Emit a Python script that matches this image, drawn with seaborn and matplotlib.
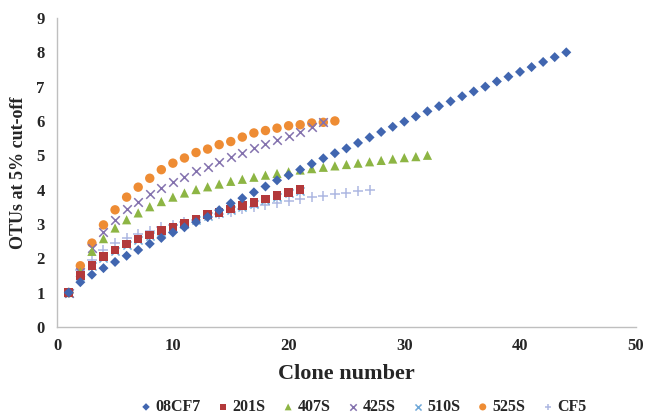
import pandas as pd
import matplotlib.pyplot as plt
import seaborn as sns

# OTU counts (5% cut-off)
otu_08cf7 = [1, 1.3, 1.52, 1.71, 1.89, 2.07, 2.24, 2.42, 2.59, 2.75, 2.9, 3.05,
             3.2, 3.4, 3.6, 3.75, 3.92, 4.09, 4.27, 4.42, 4.58, 4.75, 4.91, 5.06,
             5.2, 5.36, 5.52, 5.68, 5.83, 5.98, 6.13, 6.28, 6.43, 6.57, 6.72, 6.86,
             7.0, 7.15, 7.29, 7.43, 7.57, 7.72, 7.86, 8.0]
otu_201s = [1, 1.49, 1.79, 2.05, 2.24, 2.41, 2.56, 2.67, 2.8, 2.91, 3.02, 3.14,
            3.27, 3.34, 3.44, 3.53, 3.62, 3.72, 3.82, 3.92, 4.0]
otu_407s = [1, 1.6, 2.2, 2.57, 2.88, 3.12, 3.32, 3.5, 3.65, 3.78, 3.9, 4.0, 4.08,
            4.16, 4.24, 4.3, 4.36, 4.42, 4.47, 4.52, 4.57, 4.61, 4.65, 4.69, 4.73,
            4.77, 4.81, 4.85, 4.89, 4.93, 4.96, 5.0]
otu_425s = [1, 1.6, 2.3, 2.76, 3.12, 3.42, 3.65, 3.88, 4.05, 4.22, 4.38, 4.53,
            4.67, 4.81, 4.94, 5.07, 5.2, 5.33, 5.45, 5.57, 5.69, 5.83, 5.97]
otu_510s = [1, 1.47, 1.76, 2.02, 2.21, 2.38, 2.53, 2.64, 2.77, 2.88, 2.99, 3.11,
            3.24, 3.31, 3.41, 3.5, 3.59, 3.69, 3.79, 3.89, 3.97]
otu_525s = [1, 1.78, 2.44, 2.97, 3.41, 3.78, 4.07, 4.33, 4.58, 4.77, 4.92, 5.08,
            5.18, 5.31, 5.4, 5.53, 5.65, 5.72, 5.79, 5.86, 5.89, 5.94, 5.96, 6.0]
otu_cf5 = [1, 1.65, 1.95, 2.25, 2.45, 2.6, 2.7, 2.8, 2.9, 2.97, 3.05, 3.12, 3.2,
           3.28, 3.36, 3.44, 3.5, 3.56, 3.62, 3.67, 3.72, 3.77, 3.82, 3.87, 3.91,
           3.95, 4.0]

sample_names = ["08CF7", "201S", "407S", "425S", "510S", "525S", "CF5"]
sample_values = [otu_08cf7, otu_201s, otu_407s, otu_425s, otu_510s, otu_525s, otu_cf5]

# long table: one row per clone per sample
rows = []
for name, values in zip(sample_names, sample_values):
    for i, v in enumerate(values):
        rows.append({"Sample": name, "Clone": i + 1, "OTUs": v})
otu_df = pd.DataFrame(rows)

# marker style per sample (Excel look)
styles = {
    "08CF7": dict(marker="D", color="#4166B0", s=26),
    "201S": dict(marker="s", color="#B3393B", s=38),
    "407S": dict(marker="^", color="#8DB544", s=44),
    "425S": dict(marker="x", color="#8472AE", s=38),
    "510S": dict(marker="x", color="#6FA8D8", s=34),
    "525S": dict(marker="o", color="#EE8C34", s=46),
    "CF5": dict(marker="+", color="#AEB8E2", s=44),
}

sns.set_style("white")
plt.rcParams["font.family"] = ["Liberation Serif", "DejaVu Serif"]
plt.rcParams["font.weight"] = "bold"

fig = plt.figure(figsize=(6.5, 4.19), dpi=100)
ax = fig.add_axes([0.088, 0.22, 0.89, 0.737])

# draw in reverse so 08CF7 ends on top like the original
for name in sample_names[::-1]:
    st = styles[name]
    sub = otu_df[otu_df["Sample"] == name]
    kw = dict(marker=st["marker"], color=st["color"], s=st["s"], label=name, ax=ax)
    if st["marker"] in ("x", "+"):
        kw["linewidth"] = 1.1
    else:
        kw["edgecolor"] = "none"
    sns.scatterplot(data=sub, x="Clone", y="OTUs", **kw)

ax.set_xlim(0, 50)
ax.set_ylim(0, 9)
ax.set_xticks(range(0, 51, 10))
ax.set_yticks(range(0, 10))
ax.tick_params(axis="x", length=0, labelsize=12, pad=8)
ax.tick_params(axis="y", length=0, labelsize=12, pad=9)
for lab in ax.get_xticklabels() + ax.get_yticklabels():
    lab.set_fontweight("bold")
ax.set_xlabel("Clone number", fontsize=16, fontweight="bold", labelpad=7)
ax.set_ylabel("OTUs at 5% cut-off", fontsize=13, fontweight="bold", labelpad=7)

for side in ["top", "right"]:
    ax.spines[side].set_visible(False)
for side in ["left", "bottom"]:
    ax.spines[side].set_color("#BFBFBF")
    ax.spines[side].set_linewidth(1.0)

# legend in original order, one row under the axis label
handles, labels = ax.get_legend_handles_labels()
order = [labels.index(n) for n in sample_names]
ax.legend([handles[i] for i in order], [labels[i] for i in order],
          loc="lower center", bbox_to_anchor=(0.556, -0.025), bbox_transform=fig.transFigure,
          ncol=7, frameon=False, handletextpad=0.0, handlelength=1.2,
          columnspacing=0.8, markerscale=0.75, prop={"weight": "bold", "size": 11.5})

fig.savefig("out.png", dpi=100)
